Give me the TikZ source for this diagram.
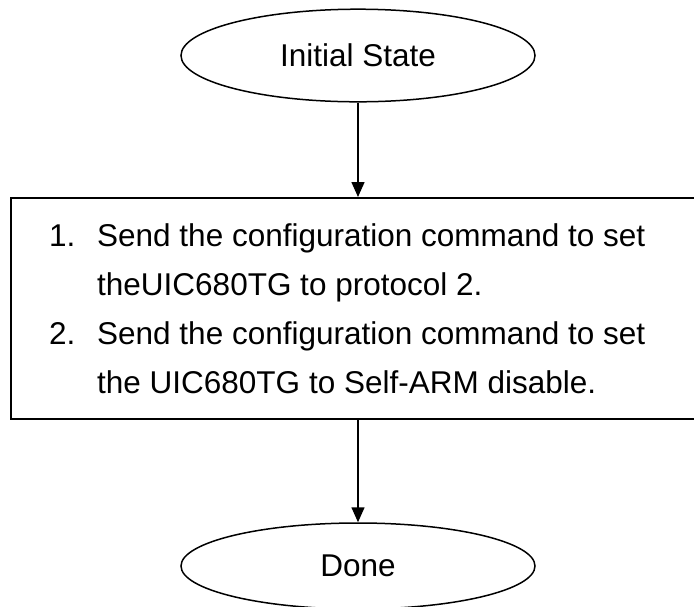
\documentclass[tikz,border=0pt]{standalone}
\usepackage{fontspec}
\setmainfont{Liberation Sans}
\usetikzlibrary{arrows.meta,shapes.geometric}
\tikzset{
  stateshape/.style={draw, ellipse, line width=1.5pt, inner sep=0pt, font=\fontsize{31.5}{38}\selectfont},
  stepbox/.style={draw, rectangle, line width=2.2pt, inner sep=0pt, anchor=north west},
  flow/.style={line width=1.5pt, -{Triangle[length=15pt,width=13pt]}}
}
\begin{document}
\begin{tikzpicture}[x=1pt,y=-1pt]
\useasboundingbox (0,0) rectangle (694,606);
\fill[white] (0,0) rectangle (694,606);
\clip (0,0) rectangle (694,606);
\node[stateshape, minimum width=354pt, minimum height=92.6pt] (init) at (358,55.5) {Initial State};
\node[stepbox, minimum width=700pt, minimum height=221pt] (box) at (10,197) {};
\node[anchor=base west, inner sep=0pt, font=\fontsize{31.5}{49}\selectfont] (list) at (49,246)
 {\begin{tabular}[t]{@{}p{48pt}@{}l@{}}
 1.& Send the configuration command to set\\
   & theUIC680TG to protocol 2.\\
 2.& Send the configuration command to set\\
   & the UIC680TG to Self-ARM disable.
 \end{tabular}};
\node[stateshape, minimum width=354pt, minimum height=86pt] (done) at (358,566) {Done};
\draw[flow] (init.south) -- (init.south |- box.north);
\draw[flow] (init.south |- box.south) -- (done.north);
\end{tikzpicture}
\end{document}
